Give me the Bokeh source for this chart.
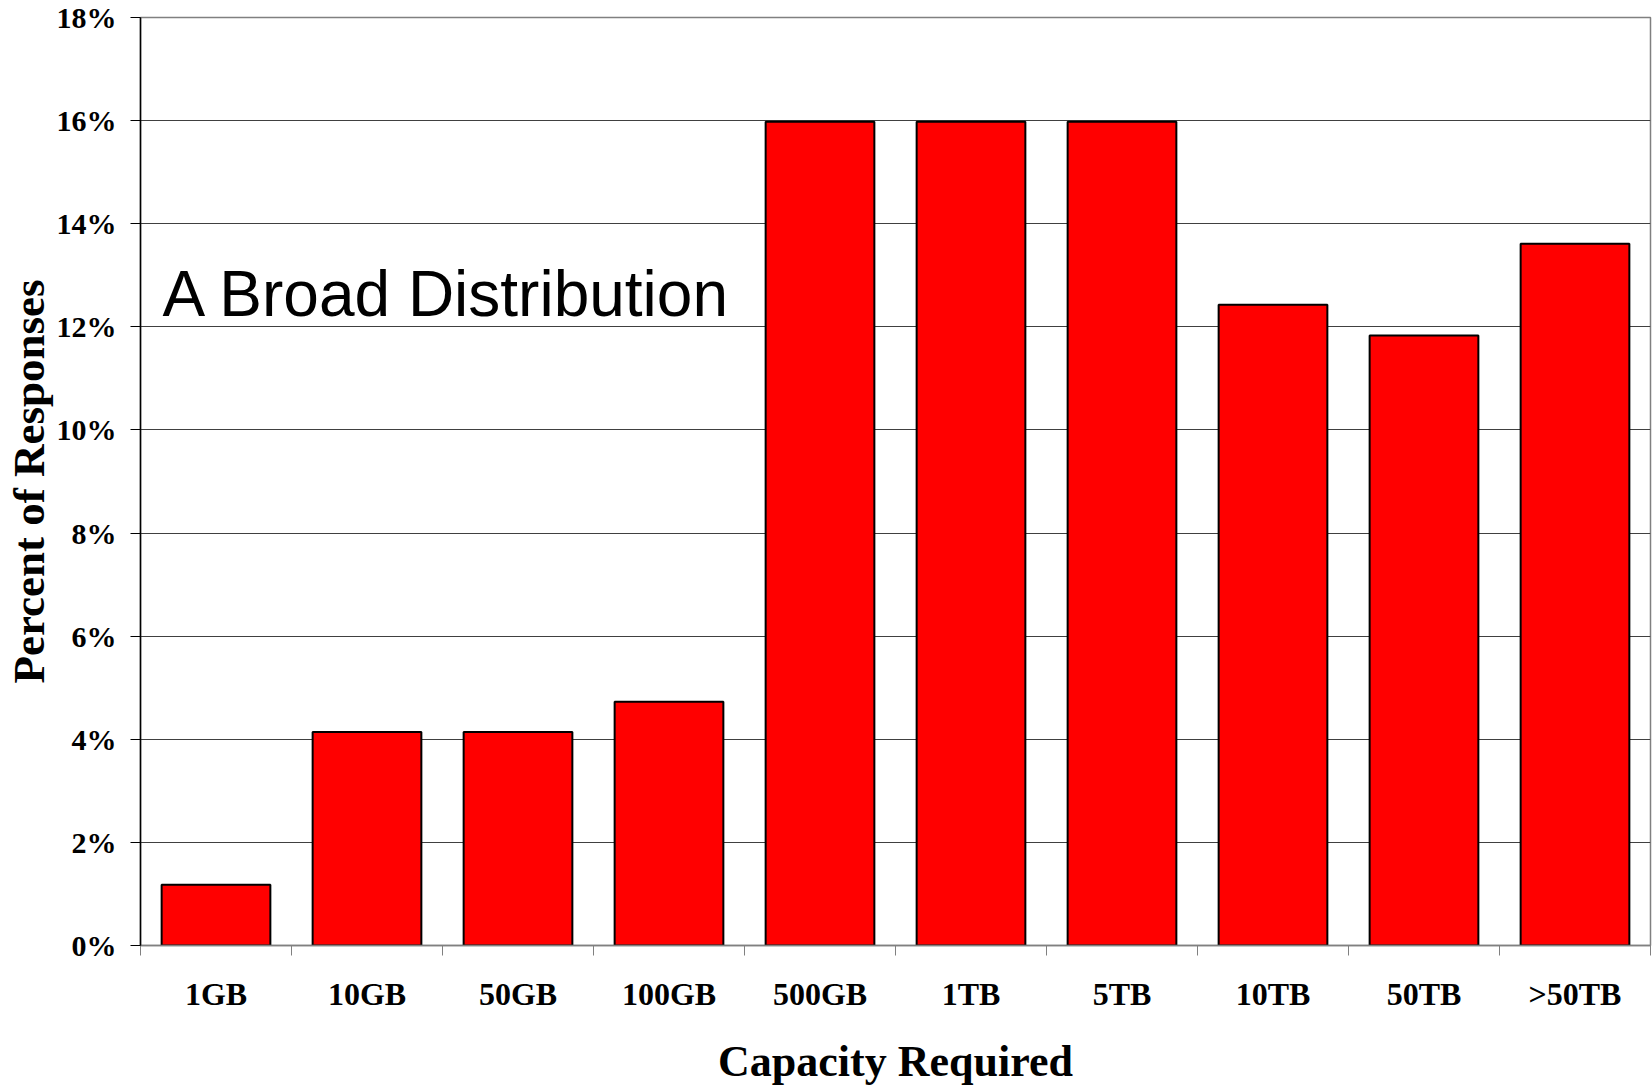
import numpy as np
from bokeh.plotting import figure
from bokeh.models import ColumnDataSource, FixedTicker, NumeralTickFormatter, Label, Range1d
from bokeh.embed import file_html
from bokeh.resources import INLINE

categories = ["1GB", "10GB", "50GB", "100GB", "500GB", "1TB", "5TB", "10TB", "50TB", ">50TB"]
percent = [0.0118, 0.0414, 0.0414, 0.0473, 0.1598, 0.1598, 0.1598, 0.1243, 0.1183, 0.1361]
y_ticks = [0.0, 0.02, 0.04, 0.06, 0.08, 0.10, 0.12, 0.14, 0.16, 0.18]
x_title = "Capacity Required"
y_title = "Percent of Responses"
note = "A Broad Distribution"

n = len(categories)
centers = [i + 0.5 for i in range(n)]
src = ColumnDataSource(dict(x=centers, top=percent, cat=categories))

SERIF = "Liberation Serif"

p = figure(width=1652, height=1088, output_backend="svg", toolbar_location=None,
           x_range=Range1d(0, n), y_range=Range1d(0, 0.18),
           min_border_left=140, min_border_right=2, min_border_top=17, min_border_bottom=141)
p.background_fill_color = "white"
p.border_fill_color = "white"
p.outline_line_color = "#808080"
p.outline_line_width = 1.5

p.vbar(x="x", top="top", width=0.72, bottom=0, source=src,
       fill_color="#FF0000", line_color="black", line_width=2)

# x axis: labels at centres, tick marks at category boundaries
xa = p.xaxis[0]
xa.ticker = FixedTicker(ticks=centers, minor_ticks=list(range(n + 1)))
xa.major_label_overrides = {c: lab for c, lab in zip(centers, categories)}
xa.major_tick_line_color = None
xa.minor_tick_line_color = "#808080"
xa.minor_tick_out = 10
xa.minor_tick_in = 0
xa.axis_line_color = "#808080"
xa.axis_line_width = 1.5
xa.major_label_text_font = SERIF
xa.major_label_text_font_style = "bold"
xa.major_label_text_font_size = "32px"
xa.major_label_text_color = "black"
xa.major_label_standoff = 20
xa.axis_label = x_title
xa.axis_label_text_font = SERIF
xa.axis_label_text_font_style = "bold"
xa.axis_label_text_font_size = "44px"
xa.axis_label_text_color = "black"
xa.axis_label_text_line_height = 0.85
xa.axis_label_standoff = 22

ya = p.yaxis[0]
ya.ticker = FixedTicker(ticks=y_ticks)
ya.formatter = NumeralTickFormatter(format="0%")
ya.major_tick_out = 10
ya.major_tick_in = 0
ya.major_tick_line_color = "black"
ya.minor_tick_line_color = None
ya.axis_line_color = "black"
ya.axis_line_width = 1.5
ya.major_label_text_font = SERIF
ya.major_label_text_font_style = "bold"
ya.major_label_text_font_size = "30px"
ya.major_label_text_color = "black"
ya.major_label_standoff = 14
ya.axis_label = y_title
ya.axis_label_text_font = SERIF
ya.axis_label_text_font_style = "bold"
ya.axis_label_text_font_size = "45px"
ya.axis_label_text_color = "black"
ya.axis_label_standoff = 0

p.xgrid.grid_line_color = None
p.ygrid.ticker = FixedTicker(ticks=y_ticks)
p.ygrid.grid_line_color = "#404040"
p.ygrid.grid_line_width = 1

p.add_layout(Label(x=0.145, y=0.1263, text=note,
                   text_font="Liberation Sans", text_font_size="64px",
                   text_color="black", text_baseline="alphabetic", text_align="left"))

open("out.html", "w").write(file_html(p, INLINE))
